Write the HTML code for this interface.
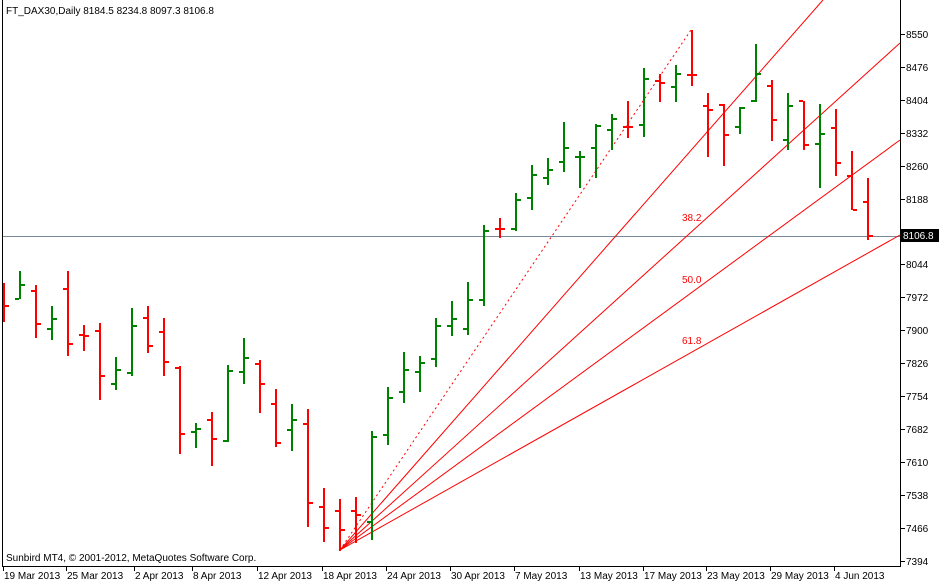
<!DOCTYPE html>
<html><head><meta charset="utf-8"><style>
html,body{margin:0;padding:0;background:#fff;width:940px;height:583px;overflow:hidden}
svg{display:block}
text{font-family:"Liberation Sans",sans-serif;font-size:10px}
</style></head><body>
<svg id="s" width="940" height="583" xmlns="http://www.w3.org/2000/svg">
<rect x="0" y="0" width="940" height="583" fill="#fff"/>
<line x1="2.5" y1="0" x2="2.5" y2="566" stroke="#000"/>
<line x1="900.5" y1="0" x2="900.5" y2="566" stroke="#000"/>
<line x1="2" y1="566.5" x2="901" y2="566.5" stroke="#000"/>
<line x1="3" y1="236.5" x2="900" y2="236.5" stroke="#778899"/>
<g id="fan" stroke="#ff0000" stroke-width="1" fill="none">
<line x1="340" y1="550" x2="691" y2="30" stroke-dasharray="2,3"/>
<line x1="340" y1="550" x2="823" y2="0"/>
<line x1="340" y1="550" x2="900" y2="43"/>
<line x1="340" y1="550" x2="900" y2="140"/>
<line x1="340" y1="550" x2="900" y2="235"/>
</g>
<text x="682" y="221" fill="#ff0000" font-size="9">38.2</text>
<text x="682" y="283" fill="#ff0000" font-size="9">50.0</text>
<text x="682" y="344" fill="#ff0000" font-size="9">61.8</text>
<g id="bars"></g>
<g id="axis"></g>
<rect x="901" y="229" width="38" height="13" fill="#000"/>
<text x="903" y="239" fill="#fff">8106.8</text>
<text x="6" y="14" fill="#000">FT_DAX30,Daily  8184.5 8234.8 8097.3 8106.8</text>
<text x="6" y="561" fill="#000">Sunbird MT4, © 2001-2012, MetaQuotes Software Corp.</text>
</svg>
<script>
var B=[[0,283,322,291,306],[1,271,299,299,285],[0,285,338,291,324],[1,306,340,329,319],[0,271,356,289,344],[0,325,351,335,336],[0,323,400,331,376],[1,357,390,384,370],[1,308,376,373,326],[0,306,353,318,346],[0,318,376,332,362],[0,366,454,368,434],[1,423,448,432,429],[0,412,466,420,439],[1,365,442,441,371],[1,338,384,372,358],[0,360,413,364,384],[0,389,447,404,443],[1,404,451,430,420],[0,409,527,424,503],[0,488,542,507,528],[0,499,551,511,530],[0,497,543,511,515],[1,431,540,522,437],[1,387,445,435,398],[1,352,403,392,370],[1,356,392,372,363],[1,318,367,359,326],[1,301,336,326,319],[1,282,335,329,300],[1,225,306,300,231],[0,218,238,229,229],[1,193,231,229,200],[1,165,210,198,175],[1,158,185,178,170],[1,122,172,162,148],[1,151,188,157,157],[1,124,178,148,126],[1,114,150,130,119],[0,101,138,127,127],[1,68,137,125,79],[0,74,102,81,83],[1,65,102,87,74],[0,30,86,75,75],[0,93,157,106,110],[0,104,166,105,135],[1,107,134,127,108],[1,44,102,101,74],[0,80,141,86,120],[1,93,150,140,106],[0,101,150,101,145],[1,104,188,144,134],[0,109,176,128,163],[0,151,210,176,210],[0,178,240,202,236]];
var h='';
B.forEach(function(b,k){var x=3+16*k,c=b[0]?'#008000':'#ff0000';
h+='<rect x="'+(x)+'" y="'+b[1]+'" width="2" height="'+(b[2]-b[1])+'" fill="'+c+'"/>';
if(k>0)h+='<rect x="'+(x-4)+'" y="'+(b[3]-1)+'" width="4" height="2" fill="'+c+'"/>';
h+='<rect x="'+(x+2)+'" y="'+(b[4]-1)+'" width="4" height="2" fill="'+c+'"/>';});
document.getElementById('bars').innerHTML=h;
var P=[['8550',34],['8476',67],['8404',100],['8332',133],['8260',166],['8188',199],['8044',264],['7972',297],['7900',330],['7826',363],['7754',396],['7682',429],['7610',462],['7538',495],['7466',528],['7394',561]];
var a='';
P.forEach(function(p){a+='<line x1="901" y1="'+(p[1]+.5)+'" x2="905" y2="'+(p[1]+.5)+'" stroke="#000"/><text x="906" y="'+(p[1]+4)+'">'+p[0]+'</text>';});
var D=[['19 Mar 2013',3],['25 Mar 2013',66],['2 Apr 2013',134],['8 Apr 2013',192],['12 Apr 2013',257],['18 Apr 2013',322],['24 Apr 2013',386],['30 Apr 2013',450],['7 May 2013',514],['13 May 2013',579],['17 May 2013',643],['23 May 2013',706],['29 May 2013',770],['4 Jun 2013',834]];
D.forEach(function(d){a+='<line x1="'+(d[1]+.5)+'" y1="566" x2="'+(d[1]+.5)+'" y2="571" stroke="#000"/><text x="'+(d[1]+1)+'" y="579">'+d[0]+'</text>';});
document.getElementById('axis').innerHTML=a;
</script>
</body></html>
